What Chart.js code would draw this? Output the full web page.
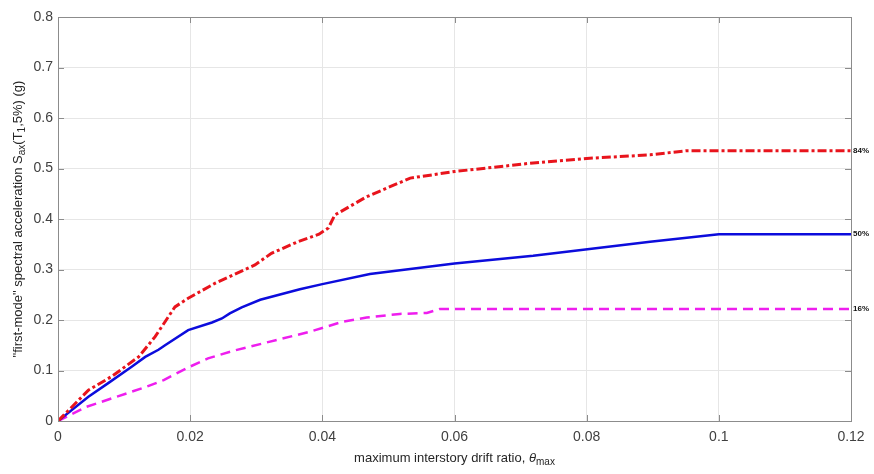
<!DOCTYPE html>
<html>
<head>
<meta charset="utf-8">
<script src="https://cdn.jsdelivr.net/npm/chart.js@4.4.0/dist/chart.umd.min.js"></script>
<style>
  html, body { margin: 0; padding: 0; background: #fff; }
  #wrap { width: 874px; height: 474px; }
</style>
</head>
<body>
<div id="wrap"><canvas id="chart" width="874" height="474"></canvas></div>
<script>
// drift ratio / Sa values
const drift84 = [0, 0.0046, 0.0081, 0.0122, 0.0147, 0.0177, 0.0197, 0.0238, 0.0298, 0.0323, 0.0363, 0.0395, 0.0409, 0.0419, 0.0467, 0.0533, 0.060, 0.0719, 0.080, 0.0896, 0.095, 0.12]
const sa84    = [0, 0.061, 0.088, 0.127, 0.167, 0.226, 0.243, 0.273, 0.309, 0.332, 0.355, 0.370, 0.382, 0.408, 0.444, 0.481, 0.494, 0.511, 0.520, 0.527, 0.535, 0.535]

const drift50 = [0, 0.0046, 0.0076, 0.0112, 0.0132, 0.0152, 0.0162, 0.0197, 0.0233, 0.0248, 0.0260, 0.0278, 0.0306, 0.0366, 0.040, 0.0472, 0.060, 0.0719, 0.0896, 0.100, 0.12]
const sa50    = [0, 0.048, 0.075, 0.108, 0.127, 0.141, 0.150, 0.180, 0.195, 0.203, 0.213, 0.225, 0.240, 0.261, 0.271, 0.291, 0.312, 0.327, 0.355, 0.370, 0.370]

const drift16 = [0, 0.0043, 0.0132, 0.0160, 0.0197, 0.0227, 0.0265, 0.0379, 0.0432, 0.0467, 0.0517, 0.0558, 0.0578, 0.12]
const sa16    = [0, 0.028, 0.067, 0.081, 0.106, 0.124, 0.139, 0.176, 0.197, 0.205, 0.212, 0.214, 0.222, 0.222]

const seriesLabels = ['84%', '50%', '16%']
const xTickLabels = ['0', '0.02', '0.04', '0.06', '0.08', '0.1', '0.12']
const yTickLabels = ['0', '0.1', '0.2', '0.3', '0.4', '0.5', '0.6', '0.7', '0.8']

const toPoints = (xs, ys) => xs.map((x, i) => ({ x: x, y: ys[i] }))

// draws text pieces, some as subscripts / italic
function drawRich(ctx, parts, size) {
  let total = 0
  parts.forEach(p => {
    ctx.font = (p.italic ? 'italic ' : '') + (p.sub ? size - 3 : size) + 'px "Liberation Sans", Arial, sans-serif'
    p.w = ctx.measureText(p.t).width
    total += p.w
  })
  let x = -total / 2
  parts.forEach(p => {
    ctx.font = (p.italic ? 'italic ' : '') + (p.sub ? size - 3 : size) + 'px "Liberation Sans", Arial, sans-serif'
    ctx.fillText(p.t, x, p.sub ? 4 : 0)
    x += p.w
  })
}

const framePlugin = {
  id: 'frame',
  afterDraw(chart) {
    const { ctx, chartArea: a, scales } = chart
    ctx.save()
    // box + inward ticks
    ctx.strokeStyle = '#8c8c8c'
    ctx.lineWidth = 1
    ctx.strokeRect(a.left + 0.5, a.top + 0.5, a.right - a.left, a.bottom - a.top)
    ctx.beginPath()
    scales.x.ticks.forEach(t => {
      const px = Math.round(scales.x.getPixelForValue(t.value)) + 0.5
      ctx.moveTo(px, a.bottom); ctx.lineTo(px, a.bottom - 6)
      ctx.moveTo(px, a.top); ctx.lineTo(px, a.top + 6)
    })
    scales.y.ticks.forEach(t => {
      const py = Math.round(scales.y.getPixelForValue(t.value)) + 0.5
      ctx.moveTo(a.left, py); ctx.lineTo(a.left + 6, py)
      ctx.moveTo(a.right, py); ctx.lineTo(a.right - 6, py)
    })
    ctx.stroke()

    // percentile labels at right end
    ctx.fillStyle = '#111'
    ctx.font = 'bold 8px "Liberation Sans", Arial, sans-serif'
    ctx.textBaseline = 'middle'
    ctx.textAlign = 'left'
    chart.data.datasets.forEach((ds, i) => {
      const last = ds.data[ds.data.length - 1]
      ctx.fillText(seriesLabels[i], a.right + 2, scales.y.getPixelForValue(last.y))
    })

    // axis titles
    ctx.fillStyle = '#262626'
    ctx.textBaseline = 'middle'
    ctx.save()
    ctx.translate((a.left + a.right) / 2, 458)
    drawRich(ctx, [
      { t: 'maximum interstory drift ratio, ' },
      { t: 'θ', italic: true },
      { t: 'max', sub: true }
    ], 13)
    ctx.restore()

    ctx.save()
    ctx.translate(18, (a.top + a.bottom) / 2)
    ctx.rotate(-Math.PI / 2)
    drawRich(ctx, [
      { t: '"first-mode" spectral acceleration S' },
      { t: 'ax', sub: true },
      { t: '(T' },
      { t: '1', sub: true },
      { t: ',5%) (g)' }
    ], 13)
    ctx.restore()
    ctx.restore()
  }
}

new Chart(document.getElementById('chart'), {
  type: 'line',
  data: {
    datasets: [
      {
        label: seriesLabels[0],
        data: toPoints(drift84, sa84),
        borderColor: '#e8141c',
        borderWidth: 3,
        borderDash: [9, 3, 3, 3],
        pointRadius: 0,
        tension: 0
      },
      {
        label: seriesLabels[1],
        data: toPoints(drift50, sa50),
        borderColor: '#0c0cdc',
        borderWidth: 2.5,
        pointRadius: 0,
        tension: 0
      },
      {
        label: seriesLabels[2],
        data: toPoints(drift16, sa16),
        borderColor: '#ee1eee',
        borderWidth: 2.5,
        borderDash: [10, 6],
        pointRadius: 0,
        tension: 0
      }
    ]
  },
  options: {
    responsive: false,
    animation: false,
    layout: { padding: { top: 17, right: 23, left: 0, bottom: 0 } },
    plugins: {
      legend: { display: false },
      tooltip: { enabled: false }
    },
    scales: {
      x: {
        type: 'linear',
        min: 0,
        max: 0.12,
        afterFit: s => { s.height = 53 },
        grid: { color: '#e6e6e6', drawTicks: false },
        border: { display: false },
        ticks: {
          stepSize: 0.02,
          padding: 8,
          color: '#404040',
          font: { family: '"Liberation Sans", Arial, sans-serif', size: 14 },
          callback: (v, i) => xTickLabels[i]
        }
      },
      y: {
        min: 0,
        max: 0.8,
        afterFit: s => { s.width = 58 },
        grid: { color: '#e6e6e6', drawTicks: false },
        border: { display: false },
        ticks: {
          stepSize: 0.1,
          padding: 5,
          color: '#404040',
          font: { family: '"Liberation Sans", Arial, sans-serif', size: 14 },
          callback: (v, i) => yTickLabels[i]
        }
      }
    }
  },
  plugins: [framePlugin]
})
</script>
</body>
</html>
